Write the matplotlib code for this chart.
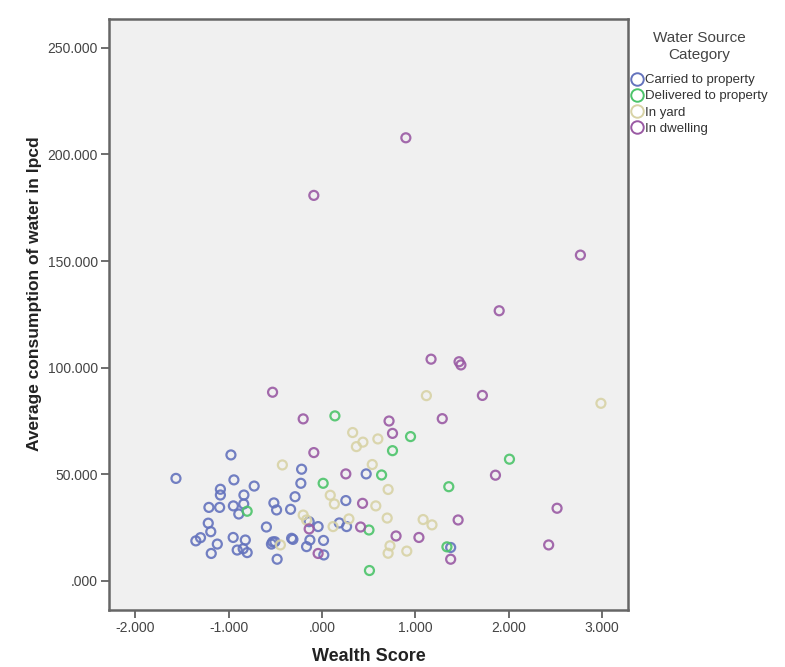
import matplotlib
matplotlib.use("Agg")
import matplotlib.pyplot as plt
from matplotlib.lines import Line2D

plt.rcParams['font.family'] = ['Liberation Sans', 'DejaVu Sans']

categories = ["Carried to property", "Delivered to property", "In yard", "In dwelling"]

carried_x = [-1.563, -0.974, -0.942, -0.725, -1.087, -1.087, -0.835, -1.21, -1.095, -0.948,
             -0.837, -0.89, -1.217, -1.19, -1.35, -1.30, -1.12, -1.185, -0.95, -0.82,
             -0.907, -0.843, -0.80, -0.594, -0.514, -0.485, -0.335, -0.287, -0.225, -0.217,
             -0.527, -0.503, -0.54, -0.324, -0.31, -0.479, -0.164, -0.128, 0.018, 0.021,
             -0.136, -0.04, 0.187, 0.265, 0.257, 0.475, 1.38]
carried_y = [48.1, 59.1, 47.4, 44.5, 43.0, 40.3, 40.3, 34.5, 34.5, 35.2,
             36.1, 31.4, 27.1, 23.1, 18.8, 20.3, 17.3, 12.9, 20.4, 19.2,
             14.5, 15.1, 13.3, 25.3, 36.6, 33.3, 33.6, 39.5, 45.8, 52.4,
             18.3, 18.4, 17.3, 20.0, 19.5, 10.2, 16.1, 19.2, 19.0, 12.2,
             27.8, 25.5, 27.2, 25.5, 37.7, 50.2, 15.7]

delivered_x = [-0.80, 0.014, 0.14, 0.95, 0.757, 0.64, 1.36, 0.505, 1.34, 0.51, 2.01]
delivered_y = [32.7, 45.8, 77.4, 67.7, 61.1, 49.7, 44.2, 23.9, 16.0, 4.9, 57.1]

yard_x = [-0.423, 1.12, 0.33, 0.37, 0.44, 0.60, 0.54, 0.71, 0.09, 0.134,
          0.578, 0.70, 1.085, 1.18, -0.20, -0.164, 0.12, 0.29, 0.73, 0.71,
          0.91, 2.99, -0.444]
yard_y = [54.4, 86.9, 69.6, 63.0, 65.1, 66.6, 54.6, 42.9, 40.2, 36.1,
          35.2, 29.5, 28.8, 26.3, 30.9, 28.6, 25.5, 29.1, 16.5, 13.0,
          14.0, 83.3, 16.9]

dwelling_x = [0.90, -0.086, 2.77, 1.90, 1.17, 1.47, 1.49, 1.72, 1.29, 0.72,
              0.757, -0.528, -0.20, -0.086, 0.257, 0.436, 1.46, -0.136, 0.415, 0.795,
              1.04, 1.38, 1.86, 2.52, 2.43, -0.04]
dwelling_y = [207.8, 180.8, 152.8, 126.7, 104.0, 102.8, 101.3, 87.0, 76.1, 75.0,
              69.2, 88.5, 76.0, 60.2, 50.2, 36.4, 28.6, 24.4, 25.3, 21.1,
              20.4, 10.2, 49.6, 34.1, 16.9, 12.9]

series = [(carried_x, carried_y), (delivered_x, delivered_y), (yard_x, yard_y), (dwelling_x, dwelling_y)]
colors = ["#6473bd", "#4cc46a", "#d8d3a6", "#9a5aa4"]

x_ticks = [-2, -1, 0, 1, 2, 3]
y_ticks = [0, 50, 100, 150, 200, 250]

def fmt(v):
    s = f"{v:.3f}"
    if s.startswith("0."):
        s = s[1:]
    return s

fig = plt.figure(figsize=(7.85, 6.67), dpi=100)
ax = fig.add_axes([0.1389, 0.0855, 0.6611, 0.886])
ax.set_facecolor("#f0f0f0")

for (xs, ys), c in zip(series, colors):
    ax.scatter(xs, ys, s=42, facecolors='none', edgecolors=c, linewidths=1.6, alpha=0.9, zorder=3)

ax.set_xlim(-2.28, 3.28)
ax.set_ylim(-13.6, 263.5)
ax.set_xticks(x_ticks)
ax.set_xticklabels([fmt(v) for v in x_ticks])
ax.set_yticks(y_ticks)
ax.set_yticklabels([fmt(v) for v in y_ticks])
ax.tick_params(direction='out', length=6, width=1.2, color='#555555', labelcolor='#444444',
               labelsize=10, pad=2)
for sp in ax.spines.values():
    sp.set_color('#666666')
    sp.set_linewidth(1.8)

ax.set_xlabel("Wealth Score", fontsize=13, fontweight='bold', color='#222222', labelpad=9)
ax.set_ylabel("Average consumption of water in lpcd", fontsize=12.5, fontweight='bold',
              color='#222222', labelpad=8)
ax.yaxis.set_label_coords(-0.13, 0.535)

handles = [Line2D([], [], marker='o', linestyle='none', markerfacecolor='none',
                  markeredgecolor=c, markersize=9, markeredgewidth=1.4) for c in colors]
leg = fig.legend(handles, categories, title="Water Source\nCategory", loc='upper left',
                 bbox_to_anchor=(0.803, 0.953), frameon=False, fontsize=9.5,
                 title_fontsize=11, handletextpad=0.1, labelspacing=0.3,
                 handlelength=1.0, borderaxespad=0, borderpad=0)
leg.get_title().set_color('#444444')
leg.get_title().set_multialignment('center')
leg._legend_box.sep = 9
for t in leg.get_texts():
    t.set_color('#333333')

fig.savefig("out.png", dpi=100)
